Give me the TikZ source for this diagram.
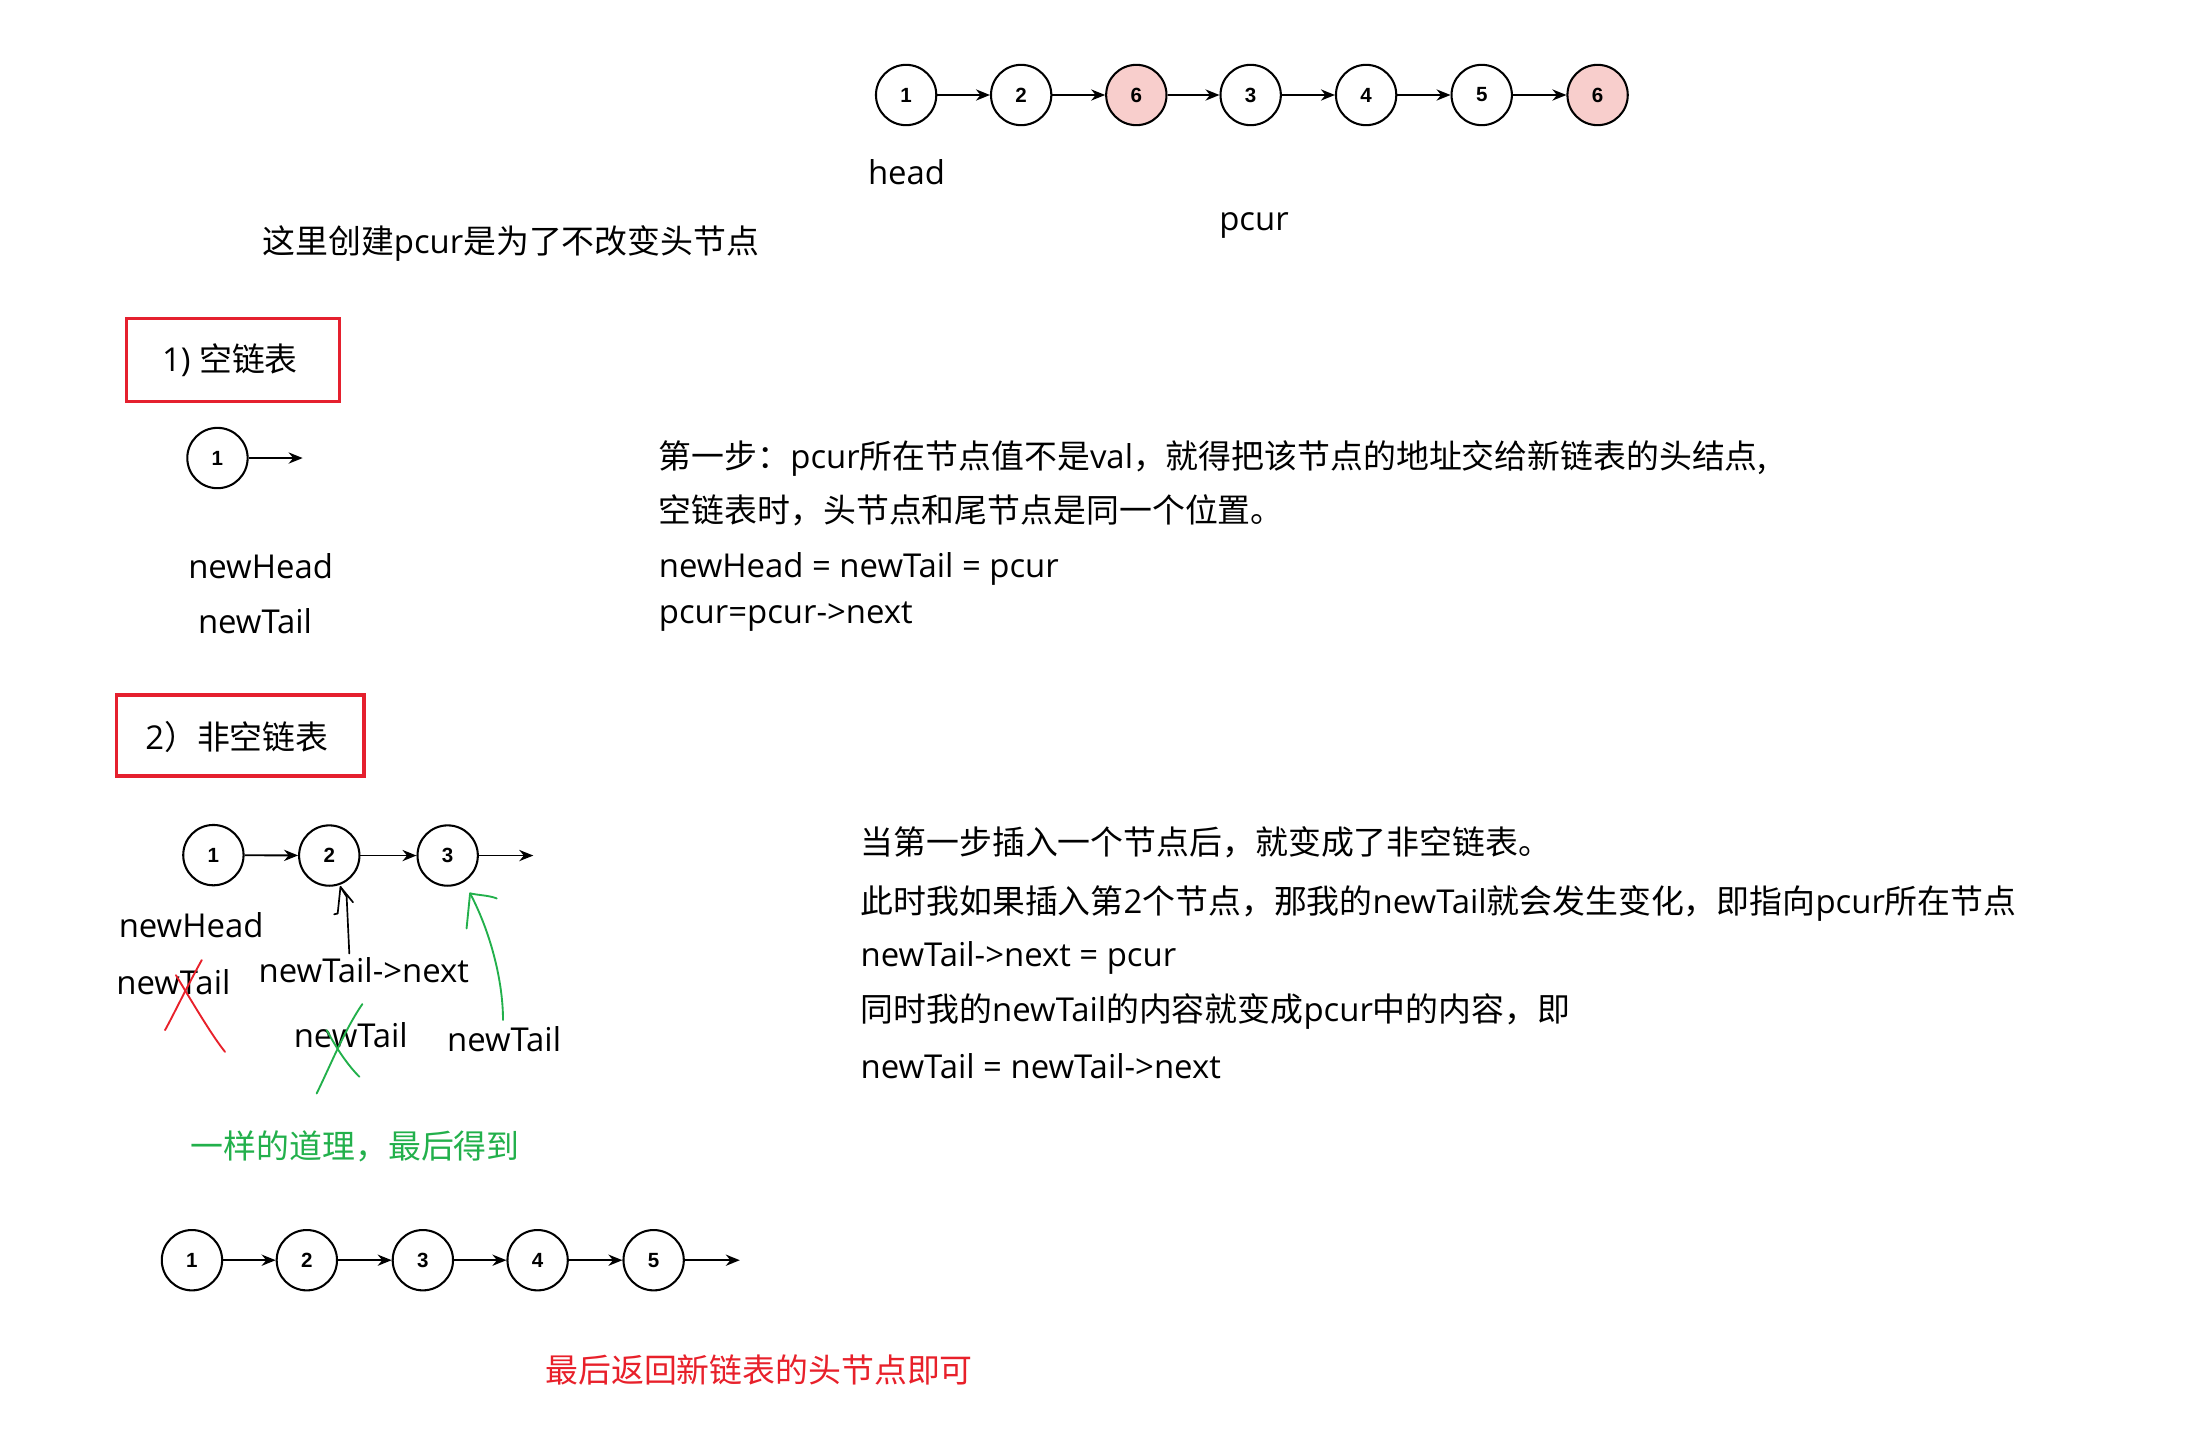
\documentclass[tikz,border=0pt]{standalone}
\usepackage{fontspec}
\usetikzlibrary{arrows.meta}
\setmainfont{Open Sans}
\newfontfamily\cjk{Noto Sans CJK SC}
\newfontfamily\numfont{Liberation Sans}
\newcommand{\zh}[1]{{\cjk #1}}
\definecolor{nodepink}{HTML}{F8CECC}
\definecolor{boxred}{HTML}{E5202E}
\definecolor{penred}{HTML}{E8202A}
\definecolor{pengreen}{HTML}{22B04B}
\definecolor{redtext}{HTML}{E8202A}
\tikzset{
  lnode/.style={circle, draw, line width=1.1pt, minimum size=32.3pt, inner sep=0pt,
    font=\numfont\bfseries\fontsize{11}{13}\selectfont},
  pinknode/.style={lnode, fill=nodepink},
  link/.style={-{Stealth[length=7.5pt,width=6pt]}, line width=1pt},
  txt/.style={inner sep=0pt, anchor=west, font=\fontsize{17.6}{20}\selectfont},
  ctxt/.style={inner sep=0pt, font=\fontsize{17.6}{20}\selectfont},
  redbox/.style={draw=boxred, line width=1.8pt, inner sep=0pt},
  pen/.style={line width=1pt, line cap=round, line join=round},
}
\begin{document}
\begin{tikzpicture}[x=0.75pt,y=-0.75pt]
\useasboundingbox (0,0) rectangle (1568,1021);
\fill[white] (0,0) rectangle (1568,1021);

% ---------- top list ----------
\node[lnode]    (t1) at (646.7,67.8) {1};
\node[lnode]    (t2) at (728.8,67.8) {2};
\node[pinknode] (t3) at (811.0,67.8) {6};
\node[lnode]    (t4) at (892.6,67.8) {3};
\node[lnode]    (t5) at (975.0,67.8) {4};
\node[lnode]    (t6) at (1057.5,67.8) {5};
\node[pinknode] (t7) at (1140.2,67.8) {6};
\draw[link] (t1) -- (t2);
\draw[link] (t2) -- (t3);
\draw[link] (t3) -- (t4);
\draw[link] (t4) -- (t5);
\draw[link] (t5) -- (t6);
\draw[link] (t6) -- (t7);
\node[ctxt] (head) at (647,123) {head};
\node[ctxt] (pcur) at (895,161) {pcur};
\node[txt] (intro) at (187,174) {\zh{这里创建}pcur\zh{是为了不改变头节点}};

% ---------- section 1 ----------
\node[redbox, minimum width=114pt, minimum height=44.6pt] (box1) at (166.1,257) {};
\node[txt] (title1) at (115.4,257) {1) \zh{空链表}};
\node[lnode] (s1) at (155.2,326.9) {1};
\coordinate (s1e) at (216,326.9);
\draw[link] (s1) -- (s1e);
\node[ctxt] (nh1) at (186,404) {newHead};
\node[ctxt] (nt1) at (182,443) {newTail};

\node[txt] (a1) at (470,327) {\zh{第一步：}pcur\zh{所在节点值不是}val\zh{，就得把该节点的地址交给新链表的头结点,}};
\node[txt] (a2) at (470,364) {\zh{空链表时，头节点和尾节点是同一个位置。}};
\node[txt] (a3) at (470,406) {newHead = newTail = pcur};
\node[txt] (a4) at (470,440) {pcur=pcur->next};

% ---------- section 2 ----------
\node[redbox, minimum width=132.4pt, minimum height=43.3pt] (box2) at (171.5,524.9) {};
\node[txt] (title2) at (103.5,526) {2\zh{）非空链表}};
\node[lnode] (r1) at (152.3,610.3) {1};
\node[lnode] (r2) at (235.0,610.6) {2};
\node[lnode] (r3) at (319.5,610.6) {3};
\coordinate (r3e) at (380.6,610.6);
\draw[link] (r1) -- (r2);
\draw[link] (r2) -- (r3);
\draw[link] (r3) -- (r3e);

\node[txt] (nh2) at (84.5,660) {newHead};
\node[txt] (nt2) at (82.8,701) {newTail};
\node[txt] (ntn) at (184.4,692.4) {newTail->next};
\node[txt] (nt3) at (209.4,739) {newTail};
\node[txt] (nt4) at (318.8,742) {newTail};

% hand-drawn black arrow
\draw[pen, line width=0.9pt] (249.3,680.5) -- (247.4,640) -- (243,633);
\draw[pen, line width=0.9pt] (243,633) -- (241,652) -- (238.5,652.5);
\draw[pen, line width=0.9pt] (243,633) -- (252,644);
% red cross
\draw[pen, draw=penred] (144,685.2) .. controls (133,705) and (125,722) .. (117.8,735.2) -- (119.5,732);
\draw[pen, draw=penred] (125.6,696) .. controls (140,720) and (152,740) .. (160.6,750.7);
% green cross
\draw[pen, draw=pengreen] (258.6,716.6) .. controls (246,735) and (236,760) .. (226,780.4);
\draw[pen, draw=pengreen] (233.2,735.2) .. controls (240,748) and (248,760) .. (256.5,768.5);
% green arrow
\draw[pen, draw=pengreen] (359,728) .. controls (359,700) and (350,665) .. (335.5,637.6);
\draw[pen, draw=pengreen] (333,662.6) -- (335.5,637.6) .. controls (342,639) and (349,639) .. (354.5,641.2);

\node[txt, text=pengreen] (same) at (136,818) {\zh{一样的道理，最后得到}};

\node[txt] (b1t) at (614,601) {\zh{当第一步插入一个节点后，就变成了非空链表。}};
\node[txt] (b2t) at (614,645) {\zh{此时我如果插入第}2\zh{个节点，那我的}newTail\zh{就会发生变化，即指向}pcur\zh{所在节点}};
\node[txt] (b3t) at (614,684) {newTail->next = pcur};
\node[txt] (b4t) at (614,722) {\zh{同时我的}newTail\zh{的内容就变成}pcur\zh{中的内容，即}};
\node[txt] (b5t) at (614,761) {newTail = newTail->next};

% ---------- final list ----------
\node[lnode] (b1) at (137.0,899.4) {1};
\node[lnode] (b2) at (219.0,899.4) {2};
\node[lnode] (b3) at (301.8,899.4) {3};
\node[lnode] (b4) at (383.7,899.4) {4};
\node[lnode] (b5) at (466.5,899.4) {5};
\coordinate (be) at (528,899.4);
\draw[link] (b1) -- (b2);
\draw[link] (b2) -- (b3);
\draw[link] (b3) -- (b4);
\draw[link] (b4) -- (b5);
\draw[link] (b5) -- (be);

\node[txt, text=redtext] (ret) at (389,978) {\zh{最后返回新链表的头节点即可}};
\end{tikzpicture}
\end{document}
